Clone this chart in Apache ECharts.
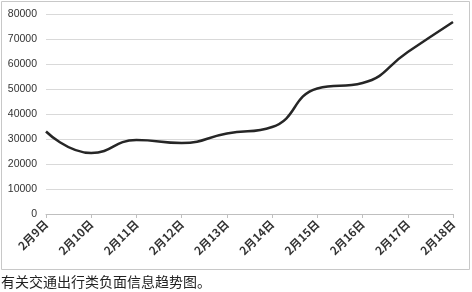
<!DOCTYPE html>
<html><head><meta charset="utf-8">
<script src="https://cdn.jsdelivr.net/npm/echarts@6/dist/echarts.min.js"></script>
<style>html,body{margin:0;padding:0;background:#fff;}#c{width:472px;height:292px;}</style>
</head><body><div id="c"></div>
<script>
const categories = ['2月9日','2月10日','2月11日','2月12日','2月13日','2月14日','2月15日','2月16日','2月17日','2月18日'];
const values = [33000, 24400, 29600, 28400, 32200, 34800, 50200, 52400, 64800, 76800];
const yTicks = [0, 10000, 20000, 30000, 40000, 50000, 60000, 70000, 80000];
const caption = '有关交通出行类负面信息趋势图。';

const chart = echarts.init(document.getElementById('c'), null, {renderer:'canvas'});
chart.setOption({
  animation: false,
  backgroundColor: '#fff',
  grid: {left: 46, right: 19, top: 14, bottom: 78, containLabel: false},
  xAxis: {
    type: 'category', data: categories, boundaryGap: false,
    axisLine: {lineStyle: {color: '#bfbfbf', width: 1}},
    axisTick: {show: true, lineStyle: {color: '#bfbfbf'}, length: 4},
    axisLabel: {rotate: 45, color: '#333', fontSize: 11.5, fontWeight: 'bold', fontFamily: 'Noto Sans CJK SC', margin: 8}
  },
  yAxis: {
    type: 'value', min: yTicks[0], max: yTicks[yTicks.length-1], interval: 10000,
    axisLine: {show: false}, axisTick: {show: false},
    splitLine: {lineStyle: {color: '#d9d9d9', width: 1}},
    axisLabel: {color: '#333', fontSize: 10.5, fontFamily: 'Liberation Sans', margin: 9, formatter: v => String(v)}
  },
  series: [{
    type: 'line', data: values, smooth: 0.5, symbol: 'none',
    lineStyle: {color: '#262626', width: 2.5}
  }],
  graphic: [
    {type: 'rect', shape: {x: 1.5, y: 1.5, width: 468, height: 268}, style: {fill: 'none', stroke: '#c8c8c8', lineWidth: 1}, z: -1},
    {type: 'text', left: 1, top: 275, style: {text: caption, font: '14px "Noto Sans CJK SC"', fill: '#222'}}
  ]
});
</script></body></html>
